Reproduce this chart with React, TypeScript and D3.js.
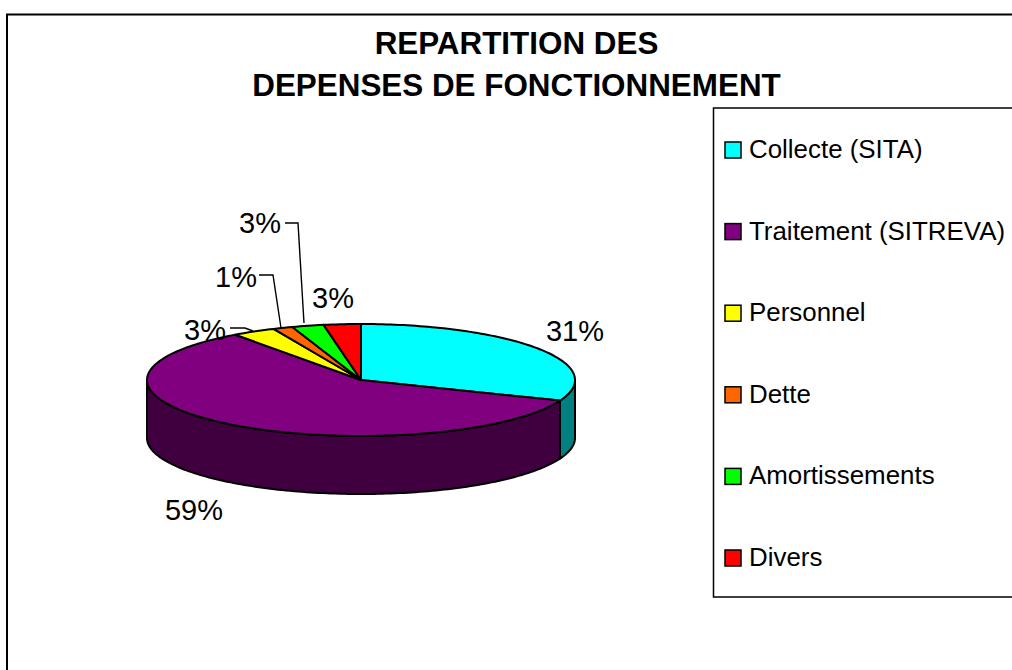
import React from "react";
import * as d3 from "d3";

const categories = ["Collecte (SITA)", "Traitement (SITREVA)", "Personnel", "Dette", "Amortissements", "Divers"];
const values = [31, 59, 3.3, 1.5, 2.4, 2.8];
const percentLabels = ["31%", "59%", "3%", "1%", "3%", "3%"];
const topColors = ["#00FFFF", "#800080", "#FFFF00", "#FF6600", "#00FF00", "#FF0000"];
const sideColors = ["#008080", "#400040", "#808000", "#803300", "#008000", "#800000"];
const titleLines = ["REPARTITION DES", "DEPENSES DE FONCTIONNEMENT"];
const FONT = "'Liberation Sans', Arial, sans-serif";

const cx = 361, cy = 380, rx = 214, ry = 56, depth = 58;
const labelPos = [[575, 341], [194, 520], [205, 340], [236, 287], [260, 233], [333, 308]];
const leaderLines = [
  null, null,
  "M230 328 L245 328 L253 331",
  "M259 275 L273 275 L281 328",
  "M285 223 L298 223 L304 323",
  null,
];

function pt(a: number, dy = 0): [number, number] {
  return [cx + rx * Math.sin(a), cy - ry * Math.cos(a) + dy];
}

function topPath(a0: number, a1: number): string {
  const steps = Math.max(2, Math.ceil((a1 - a0) / 0.02));
  const pts = d3.range(steps + 1).map((i) => pt(a0 + ((a1 - a0) * i) / steps));
  return `M${cx} ${cy} L` + pts.map((p) => p.join(" ")).join(" L") + " Z";
}

function sidePath(a0: number, a1: number): string {
  const lo = Math.max(a0, Math.PI / 2);
  const hi = Math.min(a1, (3 * Math.PI) / 2);
  if (hi <= lo) return "";
  const steps = Math.max(2, Math.ceil((hi - lo) / 0.02));
  const angles = d3.range(steps + 1).map((i) => lo + ((hi - lo) * i) / steps);
  const top = angles.map((a) => pt(a));
  const bottom = angles.map((a) => pt(a, depth)).reverse();
  return "M" + top.concat(bottom).map((p) => p.join(" ")).join(" L") + " Z";
}

export default function App() {
  const arcs = d3
    .pie<number>()
    .sort(null)
    .value((d) => d)(values);
  const legendRowY = d3.scalePoint<number>().domain(d3.range(categories.length)).range([149, 557]);

  return (
    <svg
      width={1012}
      height={670}
      style={{ position: "absolute", left: 0, top: 0, display: "block", background: "#fff" }}
      fontFamily={FONT}
    >
      <rect x={7} y={14.5} width={1100} height={800} fill="#fff" stroke="#000" strokeWidth={2} />

      {titleLines.map((t, i) => (
        <text key={t} x={516.5} y={54 + i * 42} textAnchor="middle" fontSize={31.4} fontWeight="bold" fill="#000">
          {t}
        </text>
      ))}

      {arcs.map((a, i) => {
        const d = sidePath(a.startAngle, a.endAngle);
        return d ? <path key={i} d={d} fill={sideColors[i]} stroke="#000" strokeWidth={2} strokeLinejoin="round" /> : null;
      })}
      {arcs.map((a, i) => (
        <path key={i} d={topPath(a.startAngle, a.endAngle)} fill={topColors[i]} stroke="#000" strokeWidth={2} strokeLinejoin="round" />
      ))}

      {leaderLines.map((d, i) => (d ? <path key={i} d={d} fill="none" stroke="#000" strokeWidth={1.4} /> : null))}
      {percentLabels.map((t, i) => (
        <text key={i} x={labelPos[i][0]} y={labelPos[i][1]} textAnchor="middle" fontSize={29} fill="#000">
          {t}
        </text>
      ))}

      <rect x={713.5} y={108} width={400} height={489} fill="#fff" stroke="#000" strokeWidth={1.5} />
      {categories.map((c, i) => {
        const y = legendRowY(i) as number;
        return (
          <g key={c}>
            <rect x={725} y={y - 7} width={16} height={16} fill={topColors[i]} stroke="#000" strokeWidth={1.5} />
            <text x={749} y={y + 9} fontSize={25.9} fill="#000">
              {c}
            </text>
          </g>
        );
      })}
    </svg>
  );
}
